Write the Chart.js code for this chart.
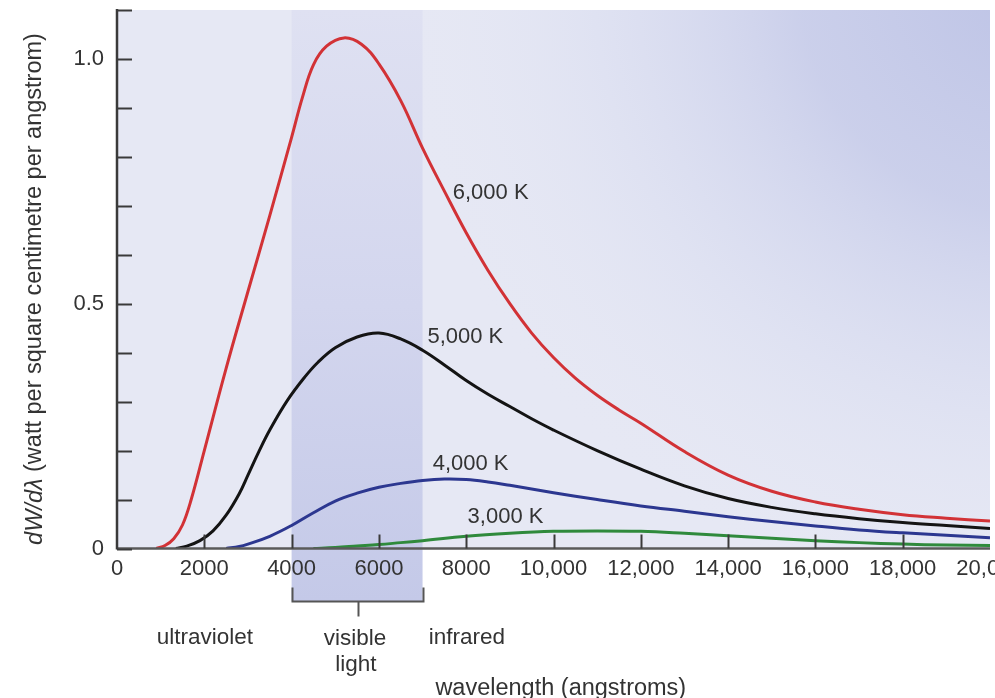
<!DOCTYPE html>
<html><head><meta charset="utf-8">
<script src="https://cdn.jsdelivr.net/npm/chart.js@4.4.1/dist/chart.umd.min.js"></script>
<style>html,body{margin:0;padding:0;background:#fff;overflow:hidden}canvas{display:block}</style>
</head><body>
<canvas id="c" width="995" height="698" style="width:995px;height:698px"></canvas>
<script>
// ---------- data ----------
const xTickValues = [0, 2000, 4000, 6000, 8000, 10000, 12000, 14000, 16000, 18000, 20000];
const xTickLabels = ['0', '2000', '4000', '6000', '8000', '10,000', '12,000', '14,000', '16,000', '18,000', '20,000'];
const yTickValues = [0, 0.5, 1.0];
const yTickLabels = ['0', '0.5', '1.0'];
const seriesNames = ['6,000 K', '5,000 K', '4,000 K', '3,000 K'];
const visibleBand = [4000, 7000];

const k6000X = [900, 1100, 1300, 1500, 1700, 2000, 2500, 3000, 3500, 4000, 4250, 4500, 4800, 5200, 5600, 6000, 6500, 7000, 7500, 8000, 8500, 9000, 9500, 10000, 10500, 11000, 11500, 12000, 13000, 14000, 15000, 16000, 17000, 18000, 19000, 20000];
const k6000Y = [0, 0.006, 0.02, 0.048, 0.1, 0.2, 0.368, 0.525, 0.68, 0.84, 0.922, 0.988, 1.026, 1.043, 1.03, 0.99, 0.915, 0.818, 0.73, 0.645, 0.568, 0.5, 0.44, 0.39, 0.348, 0.313, 0.283, 0.256, 0.198, 0.15, 0.117, 0.095, 0.08, 0.069, 0.062, 0.056];

const k5000X = [1350, 1600, 1900, 2200, 2500, 2800, 3000, 3250, 3500, 3900, 4300, 4600, 5000, 5500, 6000, 6500, 7000, 7500, 8000, 8500, 9000, 9500, 10000, 11000, 12000, 13000, 14000, 15000, 16000, 17000, 18000, 19000, 20000];
const k5000Y = [0, 0.005, 0.016, 0.036, 0.068, 0.112, 0.15, 0.198, 0.242, 0.302, 0.35, 0.38, 0.41, 0.432, 0.44, 0.428, 0.405, 0.375, 0.343, 0.315, 0.29, 0.265, 0.242, 0.2, 0.162, 0.128, 0.102, 0.084, 0.071, 0.061, 0.053, 0.047, 0.041];

const k4000X = [2500, 2800, 3000, 3500, 4000, 4500, 5000, 5500, 6000, 6500, 7000, 7500, 8000, 8500, 9000, 10000, 11000, 12000, 13000, 14000, 15000, 16000, 17000, 18000, 19000, 20000];
const k4000Y = [0, 0.004, 0.009, 0.025, 0.047, 0.073, 0.097, 0.113, 0.125, 0.133, 0.139, 0.142, 0.141, 0.136, 0.129, 0.114, 0.1, 0.087, 0.076, 0.065, 0.055, 0.046, 0.038, 0.032, 0.027, 0.022];

const k3000X = [4500, 5000, 5500, 6000, 6500, 7000, 8000, 9000, 10000, 11000, 12000, 13000, 14000, 15000, 16000, 17000, 18000, 19000, 20000];
const k3000Y = [0, 0.002, 0.005, 0.008, 0.012, 0.016, 0.025, 0.031, 0.035, 0.036, 0.035, 0.031, 0.026, 0.021, 0.016, 0.012, 0.009, 0.007, 0.006];

// ---------- styling / helpers ----------
const FONT = "'Liberation Sans', Arial, Helvetica, sans-serif";
const TXT = '#333';
const pts = (xs, ys) => xs.map((x, i) => ({x: x, y: ys[i]}));

const seriesColors = ['#d23236', '#141414', '#2c3790', '#2f8a3c'];
const seriesData = [pts(k6000X, k6000Y), pts(k5000X, k5000Y), pts(k4000X, k4000Y), pts(k3000X, k3000Y)];
// label anchors in data units (x in angstrom, y in value)
const labelAnchors = [[8560, 0.727], [7980, 0.432], [8100, 0.173], [8900, 0.065]];

const decorPlugin = {
  id: 'decor',
  beforeDraw(chart) {
    const {ctx, chartArea: a, scales: {x, y}} = chart;
    ctx.save();
    // plot background
    ctx.fillStyle = '#e6e8f4';
    ctx.fillRect(a.left, a.top, a.right - a.left, a.bottom - a.top);
    const rg = ctx.createRadialGradient(a.right + 40, a.top - 30, 10, a.right + 40, a.top - 30, 640);
    rg.addColorStop(0, 'rgba(190,196,230,1)');
    rg.addColorStop(0.35, 'rgba(198,203,233,0.85)');
    rg.addColorStop(0.7, 'rgba(215,219,240,0.4)');
    rg.addColorStop(1, 'rgba(230,232,244,0)');
    ctx.fillStyle = rg;
    ctx.fillRect(a.left, a.top, a.right - a.left, a.bottom - a.top);
    // visible band
    const bx0 = x.getPixelForValue(visibleBand[0]);
    const bx1 = x.getPixelForValue(visibleBand[1]);
    const bandBottom = a.bottom + 53;
    const lg = ctx.createLinearGradient(0, a.top, 0, bandBottom);
    lg.addColorStop(0, '#dfe1f2');
    lg.addColorStop(0.5, '#d3d6ee');
    lg.addColorStop(1, '#c4c9e8');
    ctx.fillStyle = lg;
    ctx.fillRect(bx0, a.top, bx1 - bx0, bandBottom - a.top);
    ctx.restore();
  },
  afterDatasetsDraw(chart) {
    const {ctx, chartArea: a, scales: {x, y}} = chart;
    const line = (x0, y0, x1, y1) => { ctx.beginPath(); ctx.moveTo(x0, y0); ctx.lineTo(x1, y1); ctx.stroke(); };
    ctx.save();
    ctx.lineCap = 'butt';
    // x axis
    ctx.strokeStyle = '#5a5a5a';
    ctx.lineWidth = 2.5;
    line(a.left, a.bottom, a.right, a.bottom);
    x.ticks.forEach(t => {
      if (t.value > 0 && t.value < x.max) {
        const px = Math.round(x.getPixelForValue(t.value)) + 0.5;
        ctx.lineWidth = 2;
        ctx.strokeStyle = '#3a3a3a';
        line(px, a.bottom, px, a.bottom - 14);
      }
    });
    // y axis
    ctx.strokeStyle = '#3a3a3a';
    ctx.lineWidth = 2.5;
    line(a.left, a.top - 1, a.left, a.bottom + 1);
    y.ticks.forEach(t => {
      const py = Math.round(y.getPixelForValue(t.value)) + 0.5;
      ctx.lineWidth = 2;
      line(a.left, py, a.left + 15, py);
    });
    // bracket under visible band
    const bx0 = Math.round(x.getPixelForValue(visibleBand[0])) + 0.5;
    const bx1 = Math.round(x.getPixelForValue(visibleBand[1])) + 0.5;
    const by = a.bottom + 53;
    ctx.strokeStyle = '#555';
    ctx.lineWidth = 2;
    ctx.beginPath();
    ctx.moveTo(bx0, by - 14); ctx.lineTo(bx0, by); ctx.lineTo(bx1, by); ctx.lineTo(bx1, by - 14);
    ctx.stroke();
    const bm = Math.round((bx0 + bx1) / 2) + 0.5;
    line(bm, by, bm, by + 15);

    // series labels
    ctx.fillStyle = TXT;
    ctx.font = '22px ' + FONT;
    ctx.textAlign = 'center';
    ctx.textBaseline = 'middle';
    seriesNames.forEach((n, i) => {
      ctx.fillText(n, x.getPixelForValue(labelAnchors[i][0]), y.getPixelForValue(labelAnchors[i][1]));
    });
    // region labels
    ctx.font = '22.5px ' + FONT;
    ctx.fillText('ultraviolet', x.getPixelForValue(2015), a.bottom + 89);
    ctx.fillText('visible', x.getPixelForValue(5450), a.bottom + 90);
    ctx.fillText('light', x.getPixelForValue(5470), a.bottom + 116);
    ctx.fillText('infrared', x.getPixelForValue(8015), a.bottom + 89);
    ctx.font = '23.5px ' + FONT;
    ctx.fillText('wavelength (angstroms)', x.getPixelForValue(10167), a.bottom + 140);

    // y axis title with italic dW/dλ
    const sz = '23.5px ';
    const part1 = 'dW/d\u03bb';
    const part2 = ' (watt per square centimetre per angstrom)';
    ctx.translate(35, 289);
    ctx.rotate(-Math.PI / 2);
    ctx.font = 'italic ' + sz + FONT;
    const w1 = ctx.measureText(part1).width;
    ctx.font = sz + FONT;
    const w2 = ctx.measureText(part2).width;
    const start = -(w1 + w2) / 2;
    ctx.textAlign = 'left';
    ctx.font = 'italic ' + sz + FONT;
    ctx.fillText(part1, start, 0);
    ctx.font = sz + FONT;
    ctx.fillText(part2, start + w1, 0);
    ctx.restore();
  }
};

const chart = new Chart(document.getElementById('c'), {
  type: 'line',
  data: {
    datasets: seriesData.map((d, i) => ({
      label: seriesNames[i],
      data: d,
      borderColor: seriesColors[i],
      borderWidth: 3,
      pointRadius: 0,
      fill: false,
      tension: 0.4
    }))
  },
  options: {
    responsive: false,
    devicePixelRatio: 1,
    animation: false,
    events: [],
    layout: {padding: {top: 10, right: 5, left: 0, bottom: 0}},
    plugins: {legend: {display: false}, tooltip: {enabled: false}},
    scales: {
      x: {
        type: 'linear', min: 0, max: 20000,
        grid: {display: false, drawTicks: false},
        border: {display: false},
        ticks: {
          stepSize: 2000, autoSkip: false, maxRotation: 0, minRotation: 0,
          padding: 7, color: TXT, font: {family: FONT, size: 22},
          callback: (v) => { const i = xTickValues.indexOf(v); return i >= 0 ? xTickLabels[i] : ''; }
        },
        afterFit: (s) => { s.height = 698 - 548.5; s.paddingLeft = 0; s.paddingRight = 0; }
      },
      y: {
        type: 'linear', min: 0, max: 1.1,
        grid: {display: false, drawTicks: false},
        border: {display: false},
        ticks: {
          stepSize: 0.1, padding: 13, color: TXT, font: {family: FONT, size: 22},
          callback: (v) => { const i = yTickValues.findIndex(t => Math.abs(t - v) < 1e-6); return i >= 0 ? yTickLabels[i] : ''; }
        },
        afterFit: (s) => { s.width = 117; s.paddingTop = 0; s.paddingBottom = 0; }
      }
    }
  },
  plugins: [decorPlugin]
});
</script>
</body></html>
